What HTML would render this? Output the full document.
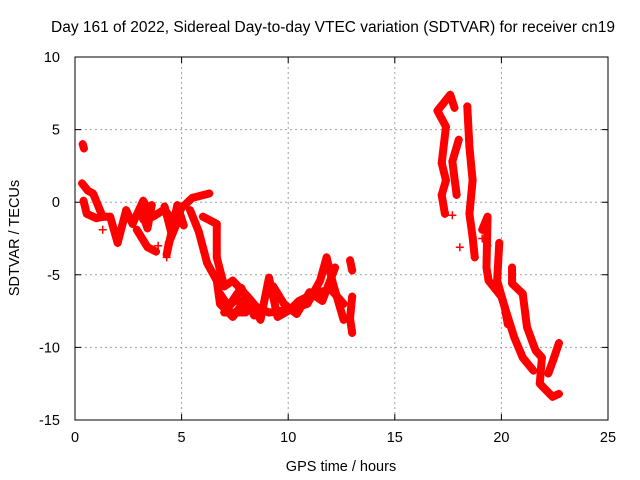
<!DOCTYPE html>
<html><head><meta charset="utf-8"><style>
body{margin:0;background:#fff}
svg{display:block;font-family:"Liberation Sans",sans-serif}
</style></head><body>
<svg id="chart" width="640" height="480" xmlns="http://www.w3.org/2000/svg">
<text x="333" y="32" font-size="15.5" text-anchor="middle">Day 161 of 2022, Sidereal Day-to-day VTEC variation (SDTVAR) for receiver cn19</text>
<text transform="translate(19,238) rotate(-90)" font-size="14.5" text-anchor="middle">SDTVAR / TECUs</text>
<text x="341" y="471" font-size="14.5" text-anchor="middle">GPS time / hours</text>
<g id="grid"></g><g id="axes"></g><g id="marks"></g>
<rect x="75" y="57" width="533" height="363" fill="none" stroke="#000" stroke-width="1"/>
</svg>
<script>
const xTicks=[0,5,10,15,20,25];
const yTicks=[10,5,0,-5,-10,-15];
const trackBlob=[[0.36,4.0],[0.42,3.7]];
const trackEarly1=[[0.33,1.3],[0.6,0.8],[0.85,0.6],[1.17,-0.55],[1.3,-1.0],[1.0,-1.1],[0.55,-0.8],[0.4,0.1]];
const trackEarly2=[[1.3,-1.0],[1.65,-1.0],[2.0,-2.8],[2.4,-0.55],[2.7,-1.5],[3.2,0.1],[3.65,-1.0],[4.2,-0.5],[4.6,-1.3],[5.0,-0.4],[5.5,0.3],[6.3,0.6]];
const trackEarly3=[[2.9,-1.9],[3.4,-3.1],[3.8,-3.4]];
const trackCluster=[[4.2,-0.3],[4.5,-2.0],[4.9,-1.0],[4.4,-2.8],[4.3,-3.6],[4.8,-0.2],[5.1,-1.6]];
const trackCluster2=[[3.1,-0.5],[3.4,-1.8],[3.6,-0.2],[3.2,-1.2]];
const trackDrop=[[5.4,-0.55],[5.8,-2.0],[6.2,-4.2],[6.65,-5.4],[6.8,-7.0],[7.4,-7.9],[8.1,-6.5],[8.7,-8.1],[9.1,-5.2],[9.5,-7.9],[10.1,-7.4],[10.9,-7.0],[11.5,-5.4],[11.8,-3.8],[12.1,-5.6],[12.6,-8.1]];
const trackDrop2=[[6.0,-1.0],[6.65,-1.5],[6.65,-3.8],[7.0,-5.8],[7.4,-5.4],[8.1,-6.5],[8.5,-7.2],[9.1,-7.6],[10.1,-7.4],[10.5,-6.8],[11.2,-6.3],[12.0,-6.0],[12.6,-7.0]];
const trackLow=[[6.8,-6.3],[7.2,-7.2],[7.6,-6.6],[8.0,-7.6],[7.0,-7.6],[7.8,-5.9],[8.4,-7.8]];
const trackLow2=[[9.3,-5.8],[9.8,-7.0],[10.4,-7.7],[11.0,-6.2],[11.6,-6.8],[12.2,-4.5]];
const trackLate=[[12.9,-4.0],[13.0,-4.7]];
const trackLate2=[[13.0,-6.5],[12.9,-8.0],[13.0,-9.0]];
const trackNight1=[[17.35,-0.8],[17.2,0.5],[17.4,1.5],[17.2,2.7],[17.4,5.2],[17.0,6.3],[17.6,7.4],[17.8,6.5]];
const trackNight2=[[18.4,6.6],[18.5,3.8],[18.65,1.5],[18.5,-0.8],[18.65,-2.4],[18.75,-3.8]];
const trackNight3=[[18.0,4.3],[17.7,2.8],[17.9,0.5]];
const trackMain=[[19.9,-2.8],[19.8,-5.4],[20.15,-7.2],[20.3,-8.4]];
const trackMain2=[[19.1,-1.9],[19.35,-1.0],[19.3,-4.5],[19.4,-5.4],[20.0,-6.5],[20.6,-9.3],[21.0,-10.7],[21.5,-11.6]];
const trackMain3=[[20.5,-4.5],[20.5,-5.6],[21.0,-6.3],[21.2,-8.6],[21.6,-10.2],[21.9,-10.7],[21.8,-12.5],[22.4,-13.4],[22.7,-13.2]];
const trackMain4=[[22.2,-11.8],[22.4,-11.0],[22.7,-9.7]];
const scatter=[[1.3,-1.9],[4.3,-3.8],[3.9,-3.0],[17.35,-0.7],[18.05,-3.1],[17.7,-0.9],[19.1,-2.5],[19.35,-3.0]];
const tracks=[trackBlob,trackEarly1,trackEarly2,trackEarly3,trackCluster,trackCluster2,trackDrop,trackDrop2,trackLow,trackLow2,trackLate,trackLate2,trackNight1,trackNight2,trackNight3,trackMain,trackMain2,trackMain3,trackMain4];
const X0=75,X1=608,Y0=57,Y1=420;
function sx(t){return X0+(t-0)/25*(X1-X0);}
function sy(v){return Y0+(10-v)/25*(Y1-Y0);}
const NS="http://www.w3.org/2000/svg";
const grid=document.getElementById('grid'),axes=document.getElementById('axes'),marks=document.getElementById('marks');
function mk(tag,attrs,parent){const e=document.createElementNS(NS,tag);for(const k in attrs)e.setAttribute(k,attrs[k]);parent.appendChild(e);return e;}
xTicks.forEach(t=>{
  if(t>0&&t<25){const g=mk('line',{x1:sx(t),x2:sx(t),y1:Y0,y2:Y1,stroke:'#a0a0a0','stroke-dasharray':'2,3'},grid);
  
  }
  const tk=mk('path',{d:`M${sx(t)},${Y1}v-6M${sx(t)},${Y0}v6`,stroke:'#000'},axes);
  
  
  const l=mk('text',{x:sx(t),y:Y1+22,'font-size':14.5,'text-anchor':'middle'},axes);l.textContent=t;
  
  
});
yTicks.forEach(v=>{
  if(v<10&&v>-15){const g=mk('line',{x1:X0,x2:X1,y1:sy(v),y2:sy(v),stroke:'#a0a0a0','stroke-dasharray':'2,3'},grid);
  
  }
  const tk=mk('path',{d:`M${X0},${sy(v)}h6M${X1},${sy(v)}h-6`,stroke:'#000'},axes);
  
  
  const l=mk('text',{x:X0-15,y:sy(v)+5,'font-size':14.5,'text-anchor':'end'},axes);l.textContent=v;
  
  
});
function plus(t,v){const p=mk('path',{d:`M${sx(t)-4},${sy(v)}h8M${sx(t)},${sy(v)-4}v8`,stroke:'#f00','stroke-width':1.5},marks);
  
  }
tracks.forEach(tr=>{
  const pl=mk('polyline',{points:tr.map(p=>sx(p[0])+','+sy(p[1])).join(' '),fill:'none',stroke:'#f00','stroke-width':8,'stroke-linejoin':'round','stroke-linecap':'round'},marks);
  
  
  tr.forEach(p=>plus(p[0],p[1]));
});
scatter.forEach(p=>plus(p[0],p[1]));
</script>
</body></html>
